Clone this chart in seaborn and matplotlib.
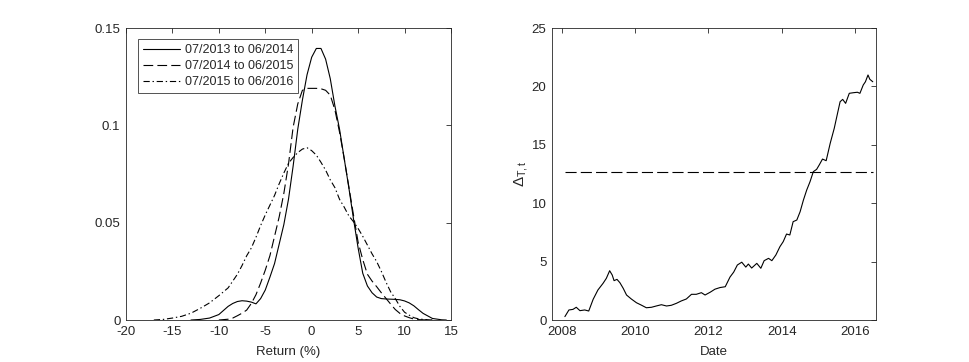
import numpy as np
import pandas as pd
import seaborn as sns
import matplotlib
matplotlib.use('Agg')
import matplotlib.pyplot as plt
from matplotlib.ticker import FuncFormatter

# Left panel: kernel densities of returns
returns = [-17, -16, -15, -14, -13, -12, -11, -10, -9, -8.5, -8, -7.5, -7, -6.5, -6,
           -5.5, -5, -4.5, -4, -3.5, -3, -2.5, -2, -1.5, -1, -0.5, 0, 0.5, 1, 1.5,
           2, 2.5, 3, 3.5, 4, 4.5, 5, 5.5, 6, 6.5, 7, 7.5, 8, 8.5, 9, 9.5, 10, 10.5,
           11, 11.5, 12, 13, 14, 14.5]
dens_1314 = [None, None, None, None, 0.0, 0.0003, 0.001, 0.0028, 0.007, 0.0085, 0.0095,
             0.0099, 0.0097, 0.0092, 0.0083, 0.011, 0.0154, 0.022, 0.029, 0.039, 0.049,
             0.062, 0.079, 0.098, 0.113, 0.126, 0.135, 0.1395, 0.1395, 0.134, 0.124,
             0.110, 0.098, 0.083, 0.068, 0.052, 0.037, 0.024, 0.0175, 0.014, 0.0118,
             0.011, 0.0108, 0.0107, 0.0106, 0.0104, 0.0098, 0.0088, 0.0073, 0.0053,
             0.0034, 0.0008, 0.0001, 0.0]
dens_1415 = [None, None, None, None, None, None, None, 0.0, 0.0004, 0.001, 0.0022,
             0.0035, 0.0051, 0.0085, 0.013, 0.019, 0.0256, 0.033, 0.043, 0.053, 0.065,
             0.080, 0.099, 0.111, 0.118, 0.119, 0.119, 0.119, 0.1188, 0.118, 0.1155,
             0.108, 0.0965, 0.083, 0.0685, 0.054, 0.04, 0.031, 0.0235, 0.020, 0.0171,
             0.014, 0.0111, 0.0082, 0.0054, 0.0034, 0.0021, 0.0012, 0.0005, 0.0002,
             0.0001, 0.0, None, None]
dens_1516 = [0.0, 0.0003, 0.001, 0.0019, 0.0035, 0.006, 0.0088, 0.0125, 0.0165, 0.02,
             0.0235, 0.028, 0.0330, 0.037, 0.0425, 0.0485, 0.054, 0.059, 0.064, 0.070,
             0.0755, 0.0805, 0.0835, 0.086, 0.0878, 0.0885, 0.087, 0.0847, 0.081, 0.077,
             0.072, 0.068, 0.062, 0.058, 0.0535, 0.0505, 0.047, 0.043, 0.0385, 0.034,
             0.030, 0.025, 0.0195, 0.0145, 0.011, 0.007, 0.004, 0.0025, 0.0012, 0.0006,
             0.0003, 0.0, None, None]
period_labels = ['07/2013 to 06/2014', '07/2014 to 06/2015', '07/2015 to 06/2016']

# Right panel: Delta_{T,t} over time (decimal years)
dates = [2008.09, 2008.20, 2008.31, 2008.40, 2008.50, 2008.63, 2008.74, 2008.86, 2008.99,
         2009.13, 2009.22, 2009.31, 2009.38, 2009.43, 2009.51, 2009.59, 2009.68, 2009.77,
         2009.90, 2010.04, 2010.17, 2010.31, 2010.45, 2010.58, 2010.72, 2010.86, 2010.99,
         2011.13, 2011.26, 2011.40, 2011.54, 2011.67, 2011.81, 2011.91, 2012.05, 2012.18,
         2012.32, 2012.46, 2012.59, 2012.69, 2012.79, 2012.91, 2013.02, 2013.09, 2013.18,
         2013.32, 2013.43, 2013.52, 2013.64, 2013.73, 2013.84, 2013.95, 2014.04, 2014.13,
         2014.22, 2014.31, 2014.41, 2014.50, 2014.59, 2014.68, 2014.77, 2014.86, 2014.95,
         2015.02, 2015.11, 2015.21, 2015.32, 2015.43, 2015.52, 2015.59, 2015.66, 2015.74,
         2015.84, 2015.95, 2016.06, 2016.13, 2016.22, 2016.28, 2016.35, 2016.40, 2016.48]
delta = [0.29, 0.86, 0.91, 1.09, 0.80, 0.86, 0.77, 1.77, 2.57,
         3.14, 3.57, 4.22, 3.85, 3.37, 3.48, 3.19, 2.71, 2.14,
         1.80, 1.48, 1.28, 1.05, 1.09, 1.20, 1.31, 1.20, 1.26,
         1.43, 1.63, 1.80, 2.20, 2.20, 2.34, 2.14, 2.38, 2.64,
         2.78, 2.85, 3.68, 4.10, 4.71, 4.95, 4.53, 4.79, 4.45,
         4.85, 4.43, 5.08, 5.28, 5.08, 5.57, 6.28, 6.71, 7.36,
         7.28, 8.42, 8.56, 9.27, 10.27, 11.13, 11.84, 12.70, 12.90,
         13.27, 13.78, 13.64, 15.13, 16.41, 17.70, 18.69, 18.89, 18.55,
         19.41, 19.46, 19.50, 19.41, 20.12, 20.40, 20.98, 20.61, 20.40]
threshold = 12.64

sns.set_style('white')
plt.rcParams['font.family'] = ['Liberation Sans', 'DejaVu Sans']
plt.rcParams['mathtext.fontset'] = 'custom'
plt.rcParams['mathtext.rm'] = 'Liberation Sans'
plt.rcParams['mathtext.it'] = 'Liberation Sans'
plt.rcParams['lines.scale_dashes'] = False
plt.rcParams['axes.unicode_minus'] = False

axis_gray = (0.15, 0.15, 0.15)
fs = 9.5

fig = plt.figure(figsize=(9.69, 3.62), dpi=100)
ax1 = fig.add_axes([0.130, 0.116, 0.3354, 0.8066])
ax2 = fig.add_axes([0.5697, 0.116, 0.3344, 0.8066])

styles = ['-', (0, (7, 3)), (0, (4.5, 2, 1, 2))]
dens_df = pd.DataFrame({'ret': returns, period_labels[0]: dens_1314,
                        period_labels[1]: dens_1415, period_labels[2]: dens_1516})
for lab, ls in zip(period_labels, styles):
    d = dens_df[['ret', lab]].dropna().astype(float)
    sns.lineplot(x=d['ret'], y=d[lab], ax=ax1, color='black', lw=0.8,
                 linestyle=ls, label=lab)

ax1.set_xlim(-20, 15)
ax1.set_ylim(0, 0.15)
ax1.set_xticks(np.arange(-20, 16, 5))
ax1.set_yticks([0, 0.05, 0.1, 0.15])
ax1.yaxis.set_major_formatter(FuncFormatter(lambda v, p: '%g' % round(v, 3)))
ax1.set_xlabel('Return (%)', fontsize=fs, color=axis_gray, labelpad=6)
ax1.set_ylabel('')
leg = ax1.legend(loc='upper left', bbox_to_anchor=(0.038, 0.961), borderaxespad=0,
                 fontsize=fs - 0.5, frameon=True, fancybox=False, handlelength=2.9,
                 handletextpad=0.4, labelspacing=0.3, borderpad=0.4)
leg.get_frame().set_edgecolor(axis_gray)
leg.get_frame().set_linewidth(0.7)
for t in leg.get_texts():
    t.set_color(axis_gray)

sns.lineplot(x=dates, y=delta, ax=ax2, color='black', lw=0.8)
sns.lineplot(x=[dates[0], dates[-1]], y=[threshold, threshold], ax=ax2,
             color='black', lw=0.8, linestyle=(0, (8, 3)))
ax2.set_xlim(2007.74, 2016.57)
ax2.set_ylim(0, 25)
ax2.set_xticks([2008, 2010, 2012, 2014, 2016])
ax2.set_yticks([0, 5, 10, 15, 20, 25])
ax2.set_xlabel('Date', fontsize=fs, color=axis_gray, labelpad=6)
ax2.set_ylabel(r'$\Delta_{T,t}$', fontsize=fs + 1.5, color=axis_gray, labelpad=1)

for ax in (ax1, ax2):
    for s in ax.spines.values():
        s.set_visible(True)
        s.set_color(axis_gray)
        s.set_linewidth(0.6)
    ax.tick_params(direction='in', top=True, right=True, length=3.5, width=0.6,
                   colors=axis_gray, labelsize=fs, pad=4)

fig.savefig('out.png', dpi=100)
